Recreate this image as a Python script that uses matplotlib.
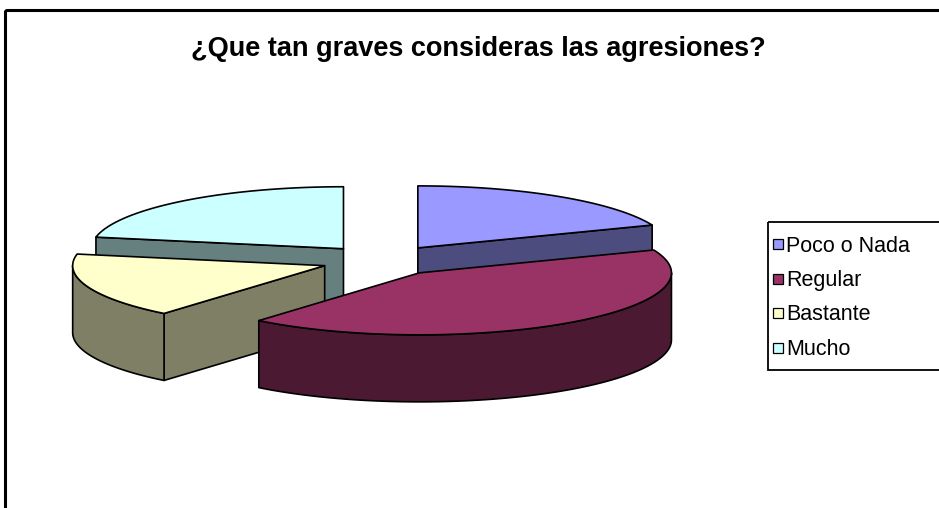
import numpy as np
import matplotlib
matplotlib.use("Agg")
import matplotlib.pyplot as plt
from matplotlib.patches import Polygon, Rectangle

title = "¿Que tan graves consideras las agresiones?"
labels = ["Poco o Nada", "Regular", "Bastante", "Mucho"]
values = [19, 42, 17, 22]
top_colors = ["#9999FF", "#993366", "#FFFFCC", "#CCFFFF"]
side_colors = ["#4C4C7F", "#4C1933", "#7F7F66", "#667F7F"]

W, H = 939, 508
fig = plt.figure(figsize=(W / 100, H / 100), dpi=100)
ax = fig.add_axes([0, 0, 1, 1])
ax.set_xlim(0, W)
ax.set_ylim(H, 0)
ax.axis("off")

# chart frame (runs off the right and bottom edges)
ax.add_patch(Rectangle((5, 10), 1200, 800, fill=False, lw=2.2, ec="black"))

ax.text(478, 56, title, ha="center", va="baseline", fontsize=19.5,
        fontweight="bold", family="Liberation Sans")

# 3D pie geometry (screen units)
cx, cy = 383, 260.5
rx, ry, depth = 252, 62, 67
explode = 0.246
lw = 1.2

fracs = np.array(values, dtype=float) / sum(values)
bounds = np.concatenate([[0], np.cumsum(fracs)]) * 2 * np.pi


def rim(theta, ox, oy, z=0.0):
    return ox + rx * np.sin(theta), oy - ry * np.cos(theta) + depth * z


slices = []
for i in range(len(values)):
    t1, t2 = bounds[i], bounds[i + 1]
    mid = 0.5 * (t1 + t2)
    ox = cx + rx * explode * np.sin(mid)
    oy = cy - ry * explode * np.cos(mid)
    slices.append((np.cos(mid), i, t1, t2, ox, oy))

# paint back slices first
for _, i, t1, t2, ox, oy in sorted(slices, key=lambda s: -s[0]):
    fc, sc = top_colors[i], side_colors[i]
    faces = []
    # radial walls
    if np.sin(t1) < -1e-6:
        x1, y1 = rim(t1, ox, oy)
        faces.append([(ox, oy), (x1, y1), (x1, y1 + depth), (ox, oy + depth)])
    if np.sin(t2) > 1e-6:
        x2, y2 = rim(t2, ox, oy)
        faces.append([(ox, oy), (x2, y2), (x2, y2 + depth), (ox, oy + depth)])
    # curved outer wall, front half only
    lo, hi = max(t1, np.pi / 2), min(t2, 3 * np.pi / 2)
    if hi > lo:
        ts = np.linspace(lo, hi, 120)
        xs, ys = rim(ts, ox, oy)
        pts = list(zip(xs, ys)) + list(zip(xs[::-1], ys[::-1] + depth))
        faces.append(pts)
    for f in faces:
        ax.add_patch(Polygon(f, closed=True, fc=sc, ec="black", lw=lw,
                             joinstyle="round"))
    ts = np.linspace(t1, t2, 200)
    xs, ys = rim(ts, ox, oy)
    top = [(ox, oy)] + list(zip(xs, ys))
    ax.add_patch(Polygon(top, closed=True, fc=fc, ec="black", lw=lw,
                         joinstyle="round"))

# legend
lx, ly = 768, 222
ax.add_patch(Rectangle((lx, ly), 300, 148, fill=False, ec="black", lw=1.3))
for k, lab in enumerate(labels):
    yc = 244 + 34.5 * k
    ax.add_patch(Rectangle((lx + 5, yc - 5), 10, 10, fc=top_colors[k],
                           ec="black", lw=0.9))
    ax.text(lx + 18, yc + 7.5, lab, ha="left", va="baseline", fontsize=15.5,
            family="Liberation Sans")

fig.savefig("out.png", dpi=100)
